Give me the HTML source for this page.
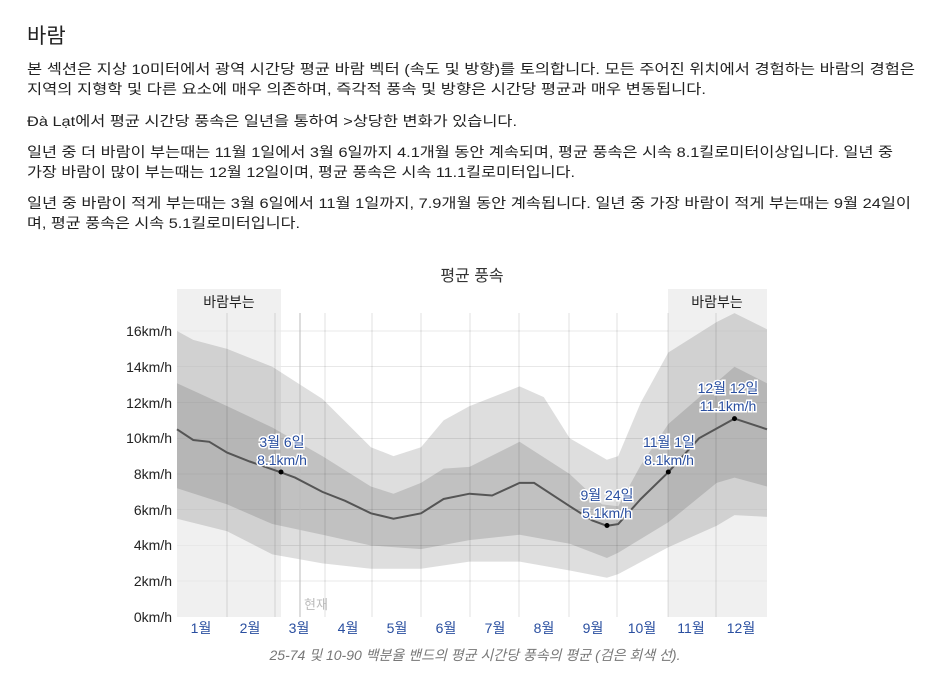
<!DOCTYPE html>
<html><head><meta charset="utf-8"><style>
body{margin:0;background:#fff;}
svg{position:absolute;left:0;top:0}
svg text{font-family:"Liberation Sans","Noto Sans CJK KR",sans-serif}
</style></head><body>
<svg width="925" height="683" viewBox="0 0 925 683">
<text x="27" y="43" font-size="21" fill="#222">바람</text>
<g font-size="14" fill="#222" lengthAdjust="spacingAndGlyphs">
<text x="27" y="74" textLength="888" lengthAdjust="spacingAndGlyphs">본 섹션은 지상 10미터에서 광역 시간당 평균 바람 벡터 (속도 및 방향)를 토의합니다. 모든 주어진 위치에서 경험하는 바람의 경험은</text>
<text x="27" y="94" textLength="679" lengthAdjust="spacingAndGlyphs">지역의 지형학 및 다른 요소에 매우 의존하며, 즉각적 풍속 및 방향은 시간당 평균과 매우 변동됩니다.</text>
<text x="27" y="126" textLength="490" lengthAdjust="spacingAndGlyphs">Đà Lạt에서 평균 시간당 풍속은 일년을 통하여 &gt;상당한 변화가 있습니다.</text>
<text x="27" y="157" textLength="866" lengthAdjust="spacingAndGlyphs">일년 중 더 바람이 부는때는 11월 1일에서 3월 6일까지 4.1개월 동안 계속되며, 평균 풍속은 시속 8.1킬로미터이상입니다. 일년 중</text>
<text x="27" y="177" textLength="548" lengthAdjust="spacingAndGlyphs">가장 바람이 많이 부는때는 12월 12일이며, 평균 풍속은 시속 11.1킬로미터입니다.</text>
<text x="27" y="208" textLength="884" lengthAdjust="spacingAndGlyphs">일년 중 바람이 적게 부는때는 3월 6일에서 11월 1일까지, 7.9개월 동안 계속됩니다. 일년 중 가장 바람이 적게 부는때는 9월 24일이</text>
<text x="27" y="228" textLength="273" lengthAdjust="spacingAndGlyphs">며, 평균 풍속은 시속 5.1킬로미터입니다.</text>
</g>
<text x="472" y="281" font-size="16" text-anchor="middle" fill="#333">평균 풍속</text>
<rect x="177" y="289" width="104" height="328" fill="#f0f0f0"/>
<rect x="668" y="289" width="99" height="328" fill="#f0f0f0"/>
<g stroke="#e8e8e8" stroke-width="1">
<line x1="177" y1="331" x2="767" y2="331"/><line x1="177" y1="366.5" x2="767" y2="366.5"/><line x1="177" y1="402.5" x2="767" y2="402.5"/><line x1="177" y1="438.5" x2="767" y2="438.5"/><line x1="177" y1="474" x2="767" y2="474"/><line x1="177" y1="509.5" x2="767" y2="509.5"/><line x1="177" y1="545.5" x2="767" y2="545.5"/><line x1="177" y1="581" x2="767" y2="581"/>
</g>
<polygon fill="rgba(0,0,0,0.13)" points="177,331 193.2,339.9 227.1,348.9 272.3,366.8 322.4,398.9 370.9,447.2 393.5,456.1 421,447.2 443.6,420.4 469.5,406.1 519.6,386.4 543.8,397.1 569.7,438.3 606.9,459.7 618.2,456.1 640.8,402.5 668.3,352.5 716.7,322 734.5,313.1 767,329.2 767,516.9 734.5,515.1 716.7,525.8 668.3,547.3 618.2,574.1 606.9,577.7 569.7,570.5 519.6,561.6 469.5,561.6 421,568.7 370.9,568.7 322.4,563.4 272.3,554.4 227.1,531.2 177,518.7"/>
<polygon fill="rgba(0,0,0,0.13)" points="177,383.3 227.1,406.1 272.3,427.5 322.4,456.1 370.9,486.5 393.5,493.7 421,482.9 443.6,468.6 469.5,466.9 519.6,441.8 569.7,474 602,504.4 618.2,506.2 640.8,465.1 668.3,424 734.5,366.8 767,383.3 767,486.5 734.5,477.6 716.7,482.9 668.3,522.3 618.2,552.7 606.9,558 569.7,543.7 519.6,534.8 469.5,540.1 421,549.1 370.9,545.5 322.4,534.8 272.3,524 227.1,504.4 177,488.3"/>
<g stroke="rgba(0,0,0,0.12)" stroke-width="1">
<line x1="227" y1="313" x2="227" y2="617"/><line x1="275" y1="313" x2="275" y2="617"/><line x1="325" y1="313" x2="325" y2="617"/><line x1="372" y1="313" x2="372" y2="617"/><line x1="421" y1="313" x2="421" y2="617"/><line x1="470" y1="313" x2="470" y2="617"/><line x1="519" y1="313" x2="519" y2="617"/><line x1="569" y1="313" x2="569" y2="617"/><line x1="617" y1="313" x2="617" y2="617"/><line x1="668" y1="313" x2="668" y2="617"/><line x1="716" y1="313" x2="716" y2="617"/>
</g>
<line x1="300" y1="313" x2="300" y2="617" stroke="#bbb"/>
<text x="304" y="609" font-size="13" fill="#bbb">현재</text>
<polyline fill="none" stroke="#555" stroke-width="2" points="177,429.3 193.2,440 209.3,441.8 227.1,452.6 249.7,461.5 280.4,472.2 295,477.6 322.4,491.9 345.1,500.8 370.9,513.3 393.5,518.7 421,513.3 443.6,499 469.5,493.7 492.1,495.5 519.6,482.9 534.1,482.9 569.7,506.2 592.3,520.5 606.9,525.8 618.2,524.1 640.8,499 668.3,472.2 699,438.3 734.5,418.6 767,429.3"/>
<g fill="#000"><circle cx="281" cy="472" r="2.5"/><circle cx="607" cy="525.5" r="2.5"/><circle cx="668.3" cy="472" r="2.5"/><circle cx="734.5" cy="418.6" r="2.5"/></g>
<g font-size="14" fill="#2a4fa0" text-anchor="middle" stroke="#fff" stroke-width="3" paint-order="stroke">
<text x="282" y="447">3월 6일</text><text x="282" y="465">8.1km/h</text>
<text x="607" y="500">9월 24일</text><text x="607" y="518">5.1km/h</text>
<text x="669" y="447">11월 1일</text><text x="669" y="465">8.1km/h</text>
<text x="728" y="393">12월 12일</text><text x="728" y="411">11.1km/h</text>
</g>
<text x="229" y="307" font-size="14" text-anchor="middle" fill="#222">바람부는</text>
<text x="717" y="307" font-size="14" text-anchor="middle" fill="#222">바람부는</text>
<g font-size="14" fill="#222" text-anchor="end">
<text x="172" y="336">16km/h</text><text x="172" y="372">14km/h</text><text x="172" y="408">12km/h</text><text x="172" y="443">10km/h</text><text x="172" y="479">8km/h</text><text x="172" y="515">6km/h</text><text x="172" y="550">4km/h</text><text x="172" y="586">2km/h</text><text x="172" y="622">0km/h</text>
</g>
<g font-size="14" fill="#2a4fa0" text-anchor="middle">
<text x="201" y="633">1월</text><text x="250" y="633">2월</text><text x="299" y="633">3월</text><text x="348" y="633">4월</text><text x="397" y="633">5월</text><text x="446" y="633">6월</text><text x="495" y="633">7월</text><text x="544" y="633">8월</text><text x="593" y="633">9월</text><text x="642" y="633">10월</text><text x="691" y="633">11월</text><text x="741" y="633">12월</text>
</g>
<text x="475" y="660" font-size="14" font-style="italic" fill="#777" text-anchor="middle">25-74 및 10-90 백분율 밴드의 평균 시간당 풍속의 평균 (검은 회색 선).</text>
</svg>
</body></html>
